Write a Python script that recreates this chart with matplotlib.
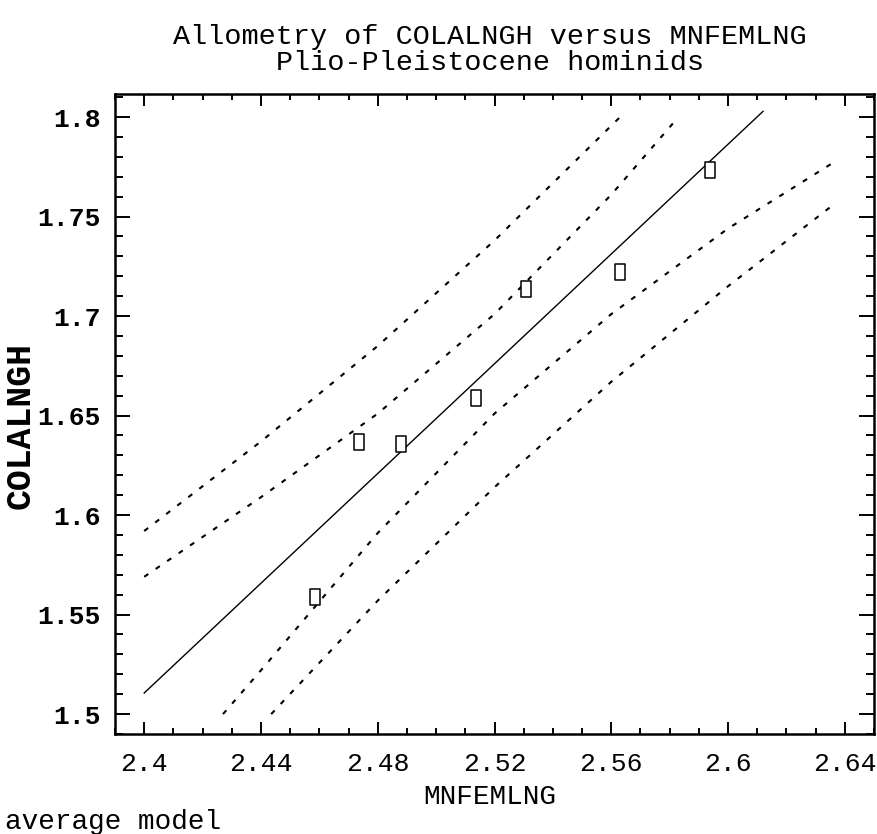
import matplotlib
matplotlib.use('Agg')
import matplotlib.pyplot as plt
from matplotlib.path import Path
from matplotlib.ticker import MultipleLocator

# observed specimens (log10 femur length vs log10 collum length)
mnfemlng = [2.4585, 2.4736, 2.4880, 2.5137, 2.5308, 2.5630, 2.5938]
colalngh = [1.5588, 1.6367, 1.6357, 1.6590, 1.7136, 1.7221, 1.7734]

# fitted line (average model)
fit_x = [2.400, 2.612]
fit_y = [1.5106, 1.8029]

# inner band
upper_in_x = [2.400, 2.440, 2.480, 2.520, 2.560, 2.583]
upper_in_y = [1.569, 1.609, 1.651, 1.701, 1.761, 1.800]
lower_in_x = [2.427, 2.440, 2.480, 2.520, 2.560, 2.600, 2.637]
lower_in_y = [1.500, 1.522, 1.591, 1.651, 1.701, 1.744, 1.778]

# outer band
upper_out_x = [2.400, 2.440, 2.480, 2.520, 2.563]
upper_out_y = [1.592, 1.637, 1.685, 1.738, 1.800]
lower_out_x = [2.4435, 2.480, 2.520, 2.560, 2.600, 2.637]
lower_out_y = [1.500, 1.557, 1.614, 1.667, 1.715, 1.757]

xticks = [2.40, 2.44, 2.48, 2.52, 2.56, 2.60, 2.64]
xticklabels = ['2.4', '2.44', '2.48', '2.52', '2.56', '2.6', '2.64']
yticks = [1.50, 1.55, 1.60, 1.65, 1.70, 1.75, 1.80]
yticklabels = ['1.5', '1.55', '1.6', '1.65', '1.7', '1.75', '1.8']

plt.rcParams['font.family'] = 'Liberation Mono'
plt.rcParams['lines.scale_dashes'] = False

W, H = 878, 834
fig = plt.figure(figsize=(W / 100, H / 100), dpi=100)
ax = fig.add_axes([115 / W, (H - 734) / H, 759 / W, 640 / H])

# tall open rectangle marker like the plotter's
rect = Path([(-0.3, -0.5), (0.3, -0.5), (0.3, 0.5), (-0.3, 0.5), (-0.3, -0.5)],
            [Path.MOVETO, Path.LINETO, Path.LINETO, Path.LINETO, Path.CLOSEPOLY])

dash = (0, (3.6, 6.4))
for bx, by in [(upper_out_x, upper_out_y), (upper_in_x, upper_in_y),
               (lower_in_x, lower_in_y), (lower_out_x, lower_out_y)]:
    ax.plot(bx, by, color='black', lw=1.5, linestyle=dash)
ax.plot(fit_x, fit_y, color='black', lw=1.0)
ax.plot(mnfemlng, colalngh, linestyle='none', marker=rect, markersize=11.5,
        markerfacecolor='white', markeredgecolor='black', markeredgewidth=1.1)

ax.set_xlim(2.39, 2.65)
ax.set_ylim(1.49, 1.8116)
ax.set_xticks(xticks)
ax.set_xticklabels(xticklabels, fontsize=19)
ax.set_yticks(yticks)
ax.set_yticklabels(yticklabels, fontsize=19, fontweight='bold')
ax.xaxis.set_minor_locator(MultipleLocator(0.01))
ax.yaxis.set_minor_locator(MultipleLocator(0.01))
ax.tick_params(which='both', direction='in', top=True, right=True, width=1.4)
ax.tick_params(axis='x', which='major', length=8.5, pad=13)
ax.tick_params(axis='x', which='minor', length=4.5)
ax.tick_params(axis='y', which='major', length=10.5, pad=10)
ax.tick_params(axis='y', which='minor', length=6)
for s in ax.spines.values():
    s.set_linewidth(1.8)

fig.text(490 / W, 1 - 37 / H, 'Allometry of COLALNGH versus MNFEMLNG',
         ha='center', va='center', fontsize=20.5)
fig.text(490 / W, 1 - 63 / H, 'Plio-Pleistocene hominids',
         ha='center', va='center', fontsize=20.5)
fig.text(490 / W, 1 - 797 / H, 'MNFEMLNG', ha='center', va='center', fontsize=20)
fig.text(5 / W, 1 - 822 / H, 'average model', ha='left', va='center', fontsize=20)
fig.text(20 / W, 1 - 425 / H, 'COLALNGH', ha='center', va='center',
         rotation=90, fontsize=25, fontweight='bold')

fig.savefig('out.png', dpi=100)
